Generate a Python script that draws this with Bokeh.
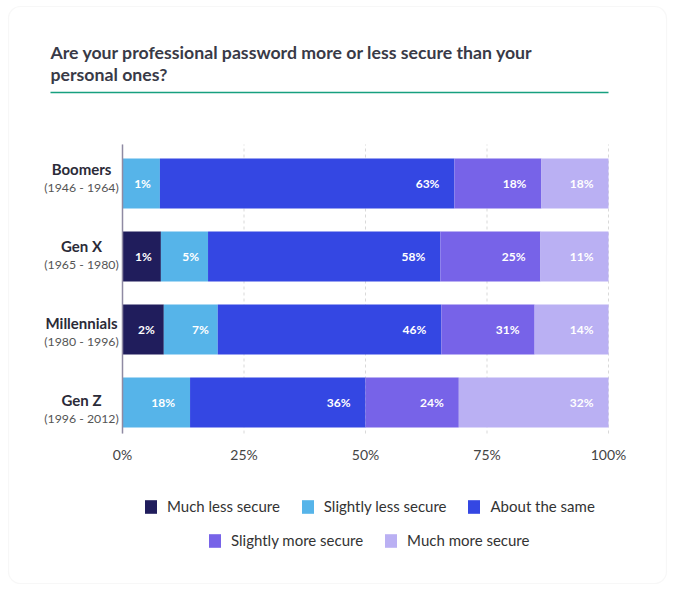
import numpy as np
from bokeh.plotting import figure
from bokeh.models import (ColumnDataSource, Range1d, Label, Legend,
                          LegendItem, BoxAnnotation)
from bokeh.core.properties import value
from bokeh.embed import file_html
from bokeh.resources import INLINE

# ---------------- data ----------------
categories = ["Boomers", "Gen X", "Millennials", "Gen Z"]
years = ["(1946 - 1964)", "(1965 - 1980)", "(1980 - 1996)", "(1996 - 2012)"]
series = ["Much less secure", "Slightly less secure", "About the same",
          "Slightly more secure", "Much more secure"]
colors = ["#201d5c", "#56b4e9", "#3447e3", "#7763e8", "#bab0f3"]

# drawn bar lengths (% of axis)
much_less_w = [0.0, 7.9, 8.5, 0.0]
slightly_less_w = [7.7, 9.7, 11.1, 13.9]
about_same_w = [60.6, 47.8, 46.0, 36.1]
slightly_more_w = [17.9, 20.6, 19.2, 19.2]
much_more_w = [13.8, 14.0, 15.2, 30.8]

# printed percentages
much_less_pct = [0, 1, 2, 0]
slightly_less_pct = [1, 5, 7, 18]
about_same_pct = [63, 58, 46, 36]
slightly_more_pct = [18, 25, 31, 24]
much_more_pct = [18, 11, 14, 32]

x_ticks = [0, 25, 50, 75, 100]
x_tick_labels = ["0%", "25%", "50%", "75%", "100%"]

title_lines = ["Are your professional password more or less secure than your",
               "personal ones?"]

widths = [much_less_w, slightly_less_w, about_same_w, slightly_more_w, much_more_w]
pcts = [much_less_pct, slightly_less_pct, about_same_pct, slightly_more_pct, much_more_pct]

# ---------------- layout constants (pixels) ----------------
W, H = 676, 591
X0_PX, PX_PER_PCT = 122.0, 4.86          # where 0% sits, px per 1%
Y_TOP_CAT_PX, PX_PER_CAT = 183.0, 73.0   # centre of first bar, spacing
PLOT_TOP_PX, PLOT_BOT_PX = 144.0, 433.0

def y_of_px(py):
    return 3 - (py - Y_TOP_CAT_PX) / PX_PER_CAT

FONT = "Lato"
p = figure(width=W, height=H, output_backend="svg", toolbar_location=None,
           x_range=Range1d(-X0_PX / PX_PER_PCT, (W - X0_PX) / PX_PER_PCT),
           y_range=Range1d(y_of_px(H), y_of_px(0)),
           x_axis_location=None, y_axis_location=None, min_border=0)
p.grid.visible = False
p.outline_line_color = None
p.border_fill_color = "#ffffff"
p.background_fill_color = "#ffffff"

# card
p.add_layout(BoxAnnotation(left=8, right=666, top=H - 6, bottom=H - 583,
                           left_units="screen", right_units="screen",
                           top_units="screen", bottom_units="screen",
                           fill_color="#ffffff", fill_alpha=1.0,
                           line_color="#e6e6e6", line_width=1.2,
                           border_radius=12, level="image"))

# title + green rule
for i, line in enumerate(title_lines):
    p.add_layout(Label(x=50, y=H - 52 - 22 * i, x_units="screen", y_units="screen",
                       text=line, text_font=FONT, text_font_style="bold",
                       text_font_size="17.7px", text_color="#393a47",
                       text_align="left", text_baseline="middle"))
p.add_layout(BoxAnnotation(left=50, right=608, top=H - 91.2, bottom=H - 92.8,
                           left_units="screen", right_units="screen",
                           top_units="screen", bottom_units="screen",
                           fill_color="#17a07f", fill_alpha=1.0, line_color=None))

ybot, ytop = y_of_px(PLOT_BOT_PX), y_of_px(PLOT_TOP_PX)

# grid lines
p.segment(x0=x_ticks, x1=x_ticks, y0=[ybot] * len(x_ticks), y1=[ytop] * len(x_ticks),
          line_color="#d9d9d9", line_width=1, line_dash="3 3")

# bars
ypos = np.array([3, 2, 1, 0], dtype=float)
bar_h = 50 / PX_PER_CAT
left = np.zeros(len(categories))
legend_items = []
for s, w, pc, col in zip(series, widths, pcts, colors):
    w = np.array(w, dtype=float)
    right = left + w
    src = ColumnDataSource(dict(y=ypos, left=left.copy(), right=right))
    r = p.hbar(y="y", left="left", right="right", height=bar_h, source=src,
               fill_color=col, line_color=None)
    legend_items.append(LegendItem(label=s, renderers=[r]))
    mask = np.array(pc) > 0
    tsrc = ColumnDataSource(dict(
        x=right[mask], y=ypos[mask],
        t=[f"{v}%" for v in np.array(pc)[mask]],
        xo=[-9 if ww < 12 else -15 for ww in w[mask]]))
    p.text(x="x", y="y", text="t", x_offset="xo", source=tsrc,
           text_align="right", text_baseline="middle", text_color="#ffffff",
           text_font=value(FONT), text_font_style="bold", text_font_size="12px")
    left = right

# y axis line
p.segment(x0=[0], x1=[0], y0=[ybot], y1=[ytop], line_color="#8f8aa3", line_width=1.5)

# x tick labels
p.text(x=x_ticks, y=[ybot] * len(x_ticks), text=x_tick_labels, y_offset=21,
       text_align="center", text_baseline="middle", text_color="#444444",
       text_font=value(FONT), text_font_size="14px")

# category labels
gy = 1.5 + (ypos - 1.5) * 1.055 - 0.01
cat_x = [(81.0 - X0_PX) / PX_PER_PCT] * len(categories)
p.text(x=cat_x, y=gy, text=categories, y_offset=-9.25, text_align="center",
       text_baseline="middle", text_color="#2b2b38", text_font=value(FONT),
       text_font_style="bold", text_font_size="15px")
p.text(x=cat_x, y=gy, text=years, y_offset=9.25, text_align="center",
       text_baseline="middle", text_color="#555555", text_font=value(FONT),
       text_font_size="12.3px")

# legends (two centred rows)
def make_legend(items, loc):
    return Legend(items=items, location=loc, orientation="horizontal",
                  glyph_width=15, glyph_height=17, label_standoff=9,
                  spacing=20, padding=0, margin=0,
                  label_text_font=FONT, label_text_font_size="15px",
                  label_text_color="#333333", border_line_color=None,
                  background_fill_alpha=0, click_policy="none")

p.add_layout(make_legend(legend_items[:3], (143, H - 515)), "center")
p.add_layout(make_legend(legend_items[3:], (207, H - 549)), "center")

open("out.html", "w").write(file_html(p, INLINE))
